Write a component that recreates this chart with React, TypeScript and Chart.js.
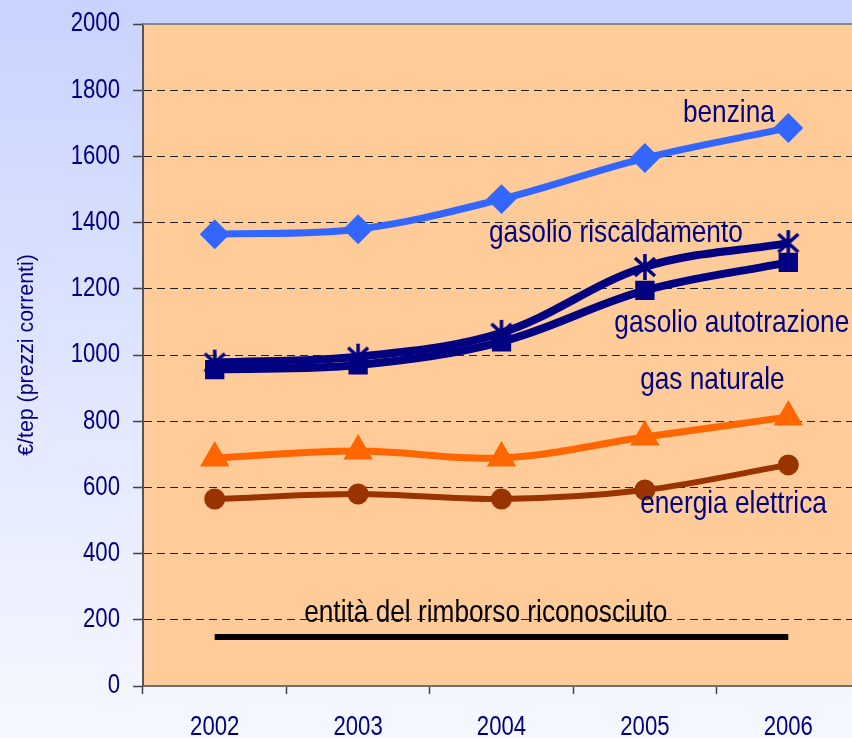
import { useEffect, useRef } from 'react';
import { Chart, registerables } from 'chart.js';

Chart.register(...registerables);

const FONT = '"Liberation Sans", Arial, sans-serif';
const NAVY = '#000080';
const NARROW = 0.82; // horizontal compression to mimic Arial Narrow

const years = ['2002', '2003', '2004', '2005', '2006'];
const benzina = [1365, 1380, 1471, 1595, 1686];
const gasolioRiscaldamento = [977, 995, 1067, 1266, 1338];
const gasolioAutotrazione = [956, 970, 1040, 1195, 1280];
const gasNaturale = [689, 710, 689, 752, 813];
const energiaElettrica = [565, 580, 565, 592, 668];
const rimborso = [148, 148, 148, 148, 148];

const yTitle = '€/tep (prezzi correnti)';

// annotation labels: text, category position (index), value
const labelTexts = ['benzina', 'gasolio riscaldamento', 'gasolio autotrazione', 'gas naturale', 'energia elettrica', 'entità del rimborso riconosciuto'];
const labelIndex = [3.265, 1.913, 2.787, 2.967, 2.967, 0.624];
const labelValue = [1731, 1369, 1097, 924, 550, 220];
const labelColors = [NAVY, NAVY, NAVY, NAVY, NAVY, '#000000'];

function makeAsterisk(): HTMLCanvasElement {
  const c = document.createElement('canvas');
  c.width = 28;
  c.height = 28;
  const g = c.getContext('2d')!;
  g.strokeStyle = NAVY;
  g.lineWidth = 3.5;
  g.lineCap = 'butt';
  g.beginPath();
  g.moveTo(14, 1); g.lineTo(14, 27);
  g.moveTo(4, 5); g.lineTo(24, 23);
  g.moveTo(24, 5); g.lineTo(4, 23);
  g.stroke();
  return c;
}

function drawText(ctx: CanvasRenderingContext2D, text: string, x: number, y: number, size: number, color: string, align: CanvasTextAlign, sx: number, rot = 0) {
  ctx.save();
  ctx.font = `${size}px ${FONT}`;
  ctx.fillStyle = color;
  ctx.textAlign = align;
  ctx.textBaseline = 'middle';
  ctx.translate(x, y);
  if (rot) ctx.rotate(rot);
  ctx.scale(sx, 1);
  ctx.fillText(text, 0, 0);
  ctx.restore();
}

const bgPlugin = {
  id: 'plotBg',
  beforeDraw(chart: any) {
    const { ctx, chartArea: a } = chart;
    ctx.save();
    ctx.fillStyle = '#FFCC99';
    ctx.fillRect(a.left, a.top, a.right - a.left, a.bottom - a.top);
    ctx.restore();
  },
  afterDraw(chart: any) {
    const { ctx, chartArea: a } = chart;
    ctx.save();
    ctx.strokeStyle = '#8a8a8a';
    ctx.lineWidth = 2;
    ctx.beginPath();
    ctx.moveTo(a.left, a.top);
    ctx.lineTo(a.right, a.top);
    ctx.stroke();
    ctx.restore();
    const x = chart.scales.x;
    const y = chart.scales.y;
    y.ticks.forEach((t: any) => {
      drawText(ctx, String(t.value), a.left - 23, y.getPixelForValue(t.value), 27, NAVY, 'right', NARROW);
    });
    years.forEach((lab, i) => {
      drawText(ctx, lab, x.getPixelForValue(i), a.bottom + 42, 27, NAVY, 'center', NARROW);
    });
    drawText(ctx, yTitle, 27, (a.top + a.bottom) / 2, 22, NAVY, 'center', 0.97, -Math.PI / 2);
  },
};

const labelPlugin = {
  id: 'seriesLabels',
  afterDatasetsDraw(chart: any) {
    const { ctx } = chart;
    const x = chart.scales.x;
    const y = chart.scales.y;
    labelTexts.forEach((t, i) => {
      drawText(ctx, t, x.getPixelForValue(labelIndex[i]), y.getPixelForValue(labelValue[i]), 32, labelColors[i], 'left', NARROW);
    });
  },
};

export default function App() {
  const ref = useRef<HTMLCanvasElement>(null);
  useEffect(() => {
    if (!ref.current) return;
    const asterisk = makeAsterisk();
    const chart = new Chart(ref.current, {
      type: 'line',
      data: {
        labels: years,
        datasets: [
          {
            label: 'benzina', data: benzina, borderColor: '#3366FF', backgroundColor: '#3366FF',
            borderWidth: 7, tension: 0.35, pointStyle: 'rectRot', pointRadius: 10,
          },
          {
            label: 'gasolio riscaldamento', data: gasolioRiscaldamento, borderColor: NAVY, backgroundColor: NAVY,
            borderWidth: 8, tension: 0.35, pointStyle: asterisk as any, pointRadius: 12,
          },
          {
            label: 'gasolio autotrazione', data: gasolioAutotrazione, borderColor: NAVY, backgroundColor: NAVY,
            borderWidth: 8, tension: 0.35, pointStyle: 'rect', pointRadius: 8,
          },
          {
            label: 'gas naturale', data: gasNaturale, borderColor: '#FF6600', backgroundColor: '#FF6600',
            borderWidth: 7, tension: 0.35, pointStyle: 'triangle', pointRadius: 10,
          },
          {
            label: 'energia elettrica', data: energiaElettrica, borderColor: '#993300', backgroundColor: '#993300',
            borderWidth: 6, tension: 0.35, pointStyle: 'circle', pointRadius: 7.5,
          },
          {
            label: 'rimborso', data: rimborso, borderColor: '#000000', backgroundColor: '#000000',
            borderWidth: 6, tension: 0, pointRadius: 0, borderCapStyle: 'butt',
          },
        ],
      },
      options: {
        responsive: false,
        animation: false,
        events: [],
        layout: { padding: { top: 24, right: 17, left: 0, bottom: 0 } },
        plugins: { legend: { display: false }, tooltip: { enabled: false } },
        scales: {
          x: {
            offset: true,
            grid: { offset: true, drawOnChartArea: false, tickLength: 8, tickColor: '#444', tickWidth: 1.5 },
            border: { color: '#707070', width: 2 },
            ticks: { display: false },
            afterFit: (s: any) => { s.height = 52; },
          },
          y: {
            min: 0,
            max: 2000,
            ticks: { stepSize: 200, display: false },
            grid: {
              color: (c: any) => (c.tick && (c.tick.value === 0 || c.tick.value === 2000) ? 'rgba(0,0,0,0)' : '#222'),
              lineWidth: 1,
              tickLength: 10,
              tickColor: '#444',
              tickWidth: 1.5,
              tickBorderDash: [],
            },
            border: { color: '#555', width: 2, dash: [8, 5] },
            afterFit: (s: any) => { s.width = 143; },
          },
        },
      },
      plugins: [bgPlugin, labelPlugin],
    });
    return () => chart.destroy();
  }, []);

  return (
    <div style={{ position: 'fixed', left: 0, top: 0, width: 852, height: 738, overflow: 'hidden', background: 'linear-gradient(to bottom, #C8D3FE, #F6F8FF)' }}>
      <canvas ref={ref} width={880} height={738} style={{ display: 'block' }} />
    </div>
  );
}
